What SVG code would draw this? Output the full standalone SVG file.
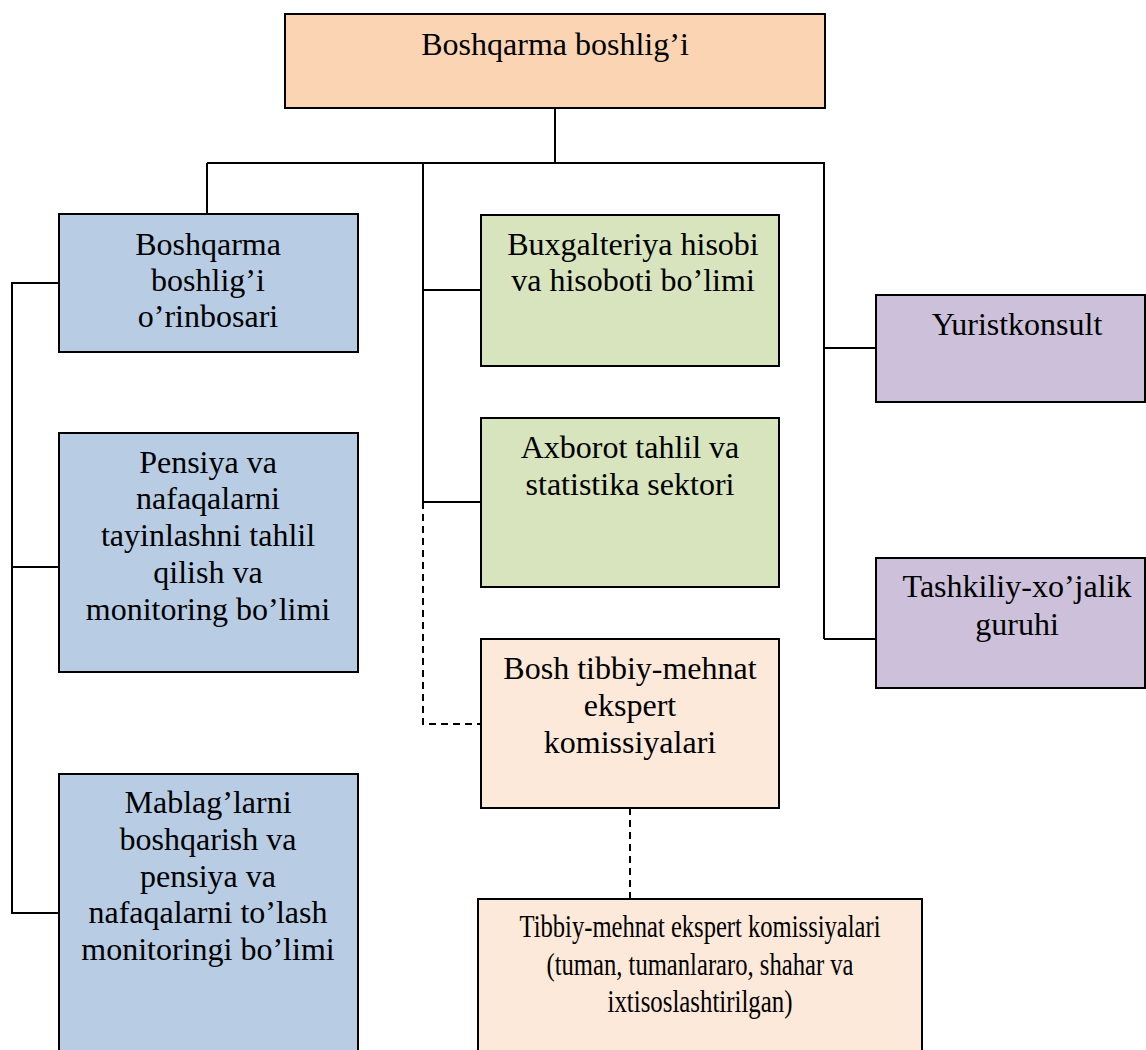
<svg xmlns="http://www.w3.org/2000/svg" width="1146" height="1050" viewBox="0 0 1146 1050">
<style>
.box{stroke:#000;stroke-width:2}
.t{font-family:"Liberation Serif","Times New Roman",serif;font-size:32px;fill:#000;text-anchor:middle}
.c{fill:none;stroke:#000;stroke-width:2}
.d{fill:none;stroke:#000;stroke-width:2;stroke-dasharray:7 5}
</style>
<rect width="1146" height="1050" fill="#fff"/>
<g id="connectors">
<path class="c" d="M555 108V163M207 163H825M207 163V214M423 163V502M423 290H481M423 502H481M824 163V639M824 348H876M824 639H876"/>
<path class="c" d="M59 283H12V913H59M12 567H59"/>
<path class="d" d="M423 502V724H481M630 808V899"/>
</g>
<g id="n-head">
<rect class="box" x="285" y="14" width="540" height="94" fill="#FBD4B4"/>
<text class="t" x="555" y="55">Boshqarma boshlig’i</text>
</g>
<g id="n-deputy">
<rect class="box" x="59" y="214" width="299" height="138" fill="#B8CCE4"/>
<text class="t" x="208" y="255">Boshqarma</text>
<text class="t" x="208" y="291">boshlig’i</text>
<text class="t" x="208" y="327">o’rinbosari</text>
</g>
<g id="n-pensiya">
<rect class="box" x="59" y="433" width="299" height="239" fill="#B8CCE4"/>
<text class="t" x="208" y="473">Pensiya va</text>
<text class="t" x="208" y="509">nafaqalarni</text>
<text class="t" x="208" y="546">tayinlashni tahlil</text>
<text class="t" x="208" y="583">qilish va</text>
<text class="t" x="208" y="620">monitoring bo’limi</text>
</g>
<g id="n-mablag">
<rect class="box" x="59" y="774" width="299" height="290" fill="#B8CCE4"/>
<text class="t" x="208" y="813">Mablag’larni</text>
<text class="t" x="208" y="850">boshqarish va</text>
<text class="t" x="208" y="887">pensiya va</text>
<text class="t" x="208" y="923">nafaqalarni to’lash</text>
<text class="t" x="208" y="960">monitoringi bo’limi</text>
</g>
<g id="n-buxgalteriya">
<rect class="box" x="481" y="215" width="298" height="151" fill="#D7E4BD"/>
<text class="t" x="633" y="255">Buxgalteriya hisobi</text>
<text class="t" x="633" y="291">va hisoboti bo’limi</text>
</g>
<g id="n-axborot">
<rect class="box" x="481" y="418" width="298" height="169" fill="#D7E4BD"/>
<text class="t" x="630" y="458">Axborot tahlil va</text>
<text class="t" x="630" y="495">statistika sektori</text>
</g>
<g id="n-bosh-tibbiy">
<rect class="box" x="481" y="639" width="298" height="169" fill="#FDE9D9"/>
<text class="t" x="630" y="679">Bosh tibbiy-mehnat</text>
<text class="t" x="630" y="716">ekspert</text>
<text class="t" x="630" y="753">komissiyalari</text>
</g>
<g id="n-tibbiy">
<rect class="box" x="478" y="899" width="444" height="170" fill="#FDE9D9"/>
<text class="t" x="700" y="937" textLength="361" lengthAdjust="spacingAndGlyphs">Tibbiy-mehnat ekspert komissiyalari</text>
<text class="t" x="700" y="975" textLength="307" lengthAdjust="spacingAndGlyphs">(tuman, tumanlararo, shahar va</text>
<text class="t" x="700" y="1012" textLength="185" lengthAdjust="spacingAndGlyphs">ixtisoslashtirilgan)</text>
</g>
<g id="n-yurist">
<rect class="box" x="876" y="295" width="269" height="107" fill="#CCC0DA"/>
<text class="t" x="1017" y="335">Yuristkonsult</text>
</g>
<g id="n-tashkiliy">
<rect class="box" x="876" y="558" width="269" height="130" fill="#CCC0DA"/>
<text class="t" x="1017" y="597">Tashkiliy-xo’jalik</text>
<text class="t" x="1017" y="635">guruhi</text>
</g>
</svg>
